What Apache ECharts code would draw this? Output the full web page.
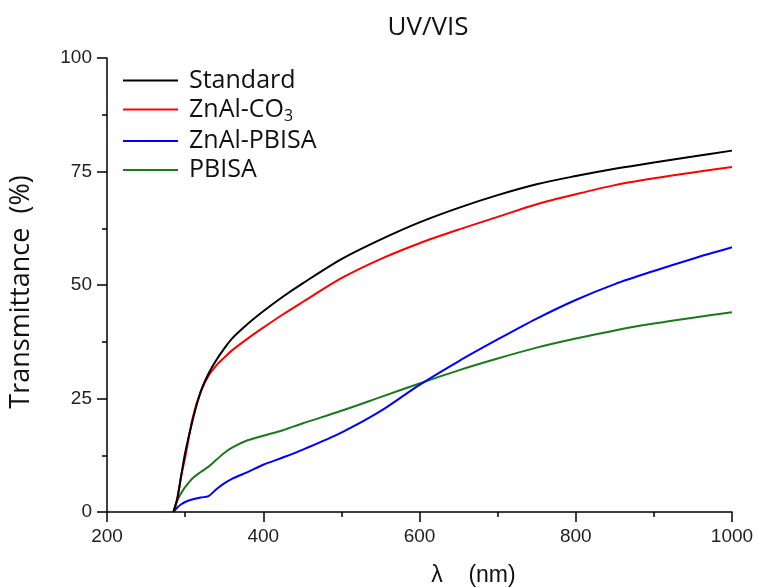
<!DOCTYPE html>
<html>
<head>
<meta charset="utf-8">
<script src="https://cdn.jsdelivr.net/npm/echarts@6/dist/echarts.min.js"></script>
<style>
html,body{margin:0;padding:0;background:#fff;}
#chart{width:757px;height:587px;}
</style>
</head>
<body>
<div id="chart"></div>
<script>
// wavelength (nm)
var wavelength = [285, 290, 295, 300, 310, 320, 330, 340, 350, 360, 380, 400, 425, 450, 500, 550, 600, 650, 700, 750, 800, 850, 900, 950, 1000];
var standard   = [0, 3, 8, 13, 20.5, 26.5, 30.5, 33.5, 36, 38.2, 41.4, 44.2, 47.4, 50.3, 55.7, 60, 63.8, 67, 69.8, 72.2, 74, 75.6, 77, 78.3, 79.6];
var znalCO3    = [0, 3, 8, 12, 21, 26.5, 30, 32.3, 34, 35.6, 38.2, 40.6, 43.5, 46.2, 51.5, 55.7, 59.2, 62.2, 65, 67.8, 70, 72, 73.5, 74.8, 76];
var znalPBISA  = [0, 1, 1.7, 2.2, 2.8, 3.2, 3.5, 5, 6.3, 7.3, 8.8, 10.4, 12, 13.7, 17.5, 22.2, 28, 33.2, 38, 42.6, 46.7, 50.2, 53.1, 55.8, 58.3];
var pbisa      = [0, 2.5, 4.2, 5.5, 7.5, 8.8, 10, 11.5, 13, 14.2, 15.8, 16.8, 18, 19.5, 22.3, 25.3, 28.3, 31.2, 33.8, 36.2, 38.2, 40, 41.5, 42.8, 44];
var xTicks = [200, 1000, 200];
var yTicks = [0, 100, 25];

var seriesNames = ['Standard', 'ZnAl-CO3', 'ZnAl-PBISA', 'PBISA'];
var seriesColors = ['#000000', '#ff0000', '#0000ff', '#1a7a1a'];
var seriesData = [standard, znalCO3, znalPBISA, pbisa];

function pairs(arr){
    var out = [];
    for(var i=0;i<wavelength.length;i++){ out.push([wavelength[i], arr[i]]); }
    return out;
}

var lineData = [];
for(var i=0;i<seriesNames.length;i++){
    lineData.push({
        name: seriesNames[i],
        type: 'line',
        symbol: 'none',
        smooth: 0.3,
        z: 10 - i,
        lineStyle: {width: 2, color: seriesColors[i]},
        itemStyle: {color: seriesColors[i]},
        data: pairs(seriesData[i])
    });
}

var myChart = echarts.init(document.getElementById('chart'));
var axisFont = {color: '#222', fontFamily: 'Liberation Sans', fontSize: 19};
var tickStyle = {color: '#000', width: 1.5};
var option = {
    animation: false,
    title: {
        text: 'UV/VIS',
        left: 423, top: 10, textAlign: 'center',
        textStyle: {color: '#111', fontFamily: 'Open Sans', fontSize: 26, fontWeight: 'normal'}
    },
    legend: {
        orient: 'vertical',
        left: 123, top: 68, padding: 0,
        itemWidth: 55, itemHeight: 2, itemGap: 4,
        icon: 'rect',
        data: seriesNames,
        formatter: function(name){
            if(name == 'ZnAl-CO3'){ return '{t|ZnAl-CO}{s|3}'; }
            return '{t|' + name + '}';
        },
        textStyle: {
            color: '#111',
            rich: {
                t: {fontFamily: 'Open Sans', fontSize: 25, color: '#111', padding: [0,0,0,6]},
                s: {fontFamily: 'Open Sans', fontSize: 16, color: '#111', verticalAlign: 'bottom', padding: [14,0,0,0]}
            }
        }
    },
    grid: {left: 107, right: 25, top: 58, bottom: 75, containLabel: false, outerBoundsMode: 'none'},
    xAxis: {
        type: 'value',
        min: xTicks[0], max: xTicks[1], interval: xTicks[2],
        name: 'λ    (nm)',
        nameLocation: 'middle',
        nameGap: 52,
        nameTextStyle: {color: '#111', fontFamily: 'Liberation Sans', fontSize: 23, padding: [0,0,0,108]},
        axisLine: {show: true, lineStyle: {color: '#000', width: 1.5}},
        axisTick: {show: true, length: 10, lineStyle: tickStyle},
        minorTick: {show: true, splitNumber: 2, length: 5, lineStyle: tickStyle},
        axisLabel: Object.assign({margin: 15, formatter: function(v){return String(v);}}, axisFont),
        splitLine: {show: false}
    },
    yAxis: {
        type: 'value',
        min: yTicks[0], max: yTicks[1], interval: yTicks[2],
        name: 'Transmittance  (%)',
        nameLocation: 'middle',
        nameGap: 72,
        nameTextStyle: {color: '#111', fontFamily: 'Open Sans', fontSize: 27, padding: [0,14,0,0]},
        axisLine: {show: true, lineStyle: {color: '#000', width: 1.5}},
        axisTick: {show: true, length: 10, lineStyle: tickStyle},
        minorTick: {show: true, splitNumber: 2, length: 5, lineStyle: tickStyle},
        axisLabel: Object.assign({margin: 15}, axisFont),
        splitLine: {show: false}
    },
    series: lineData
};
myChart.setOption(option, true);
</script>
</body>
</html>
